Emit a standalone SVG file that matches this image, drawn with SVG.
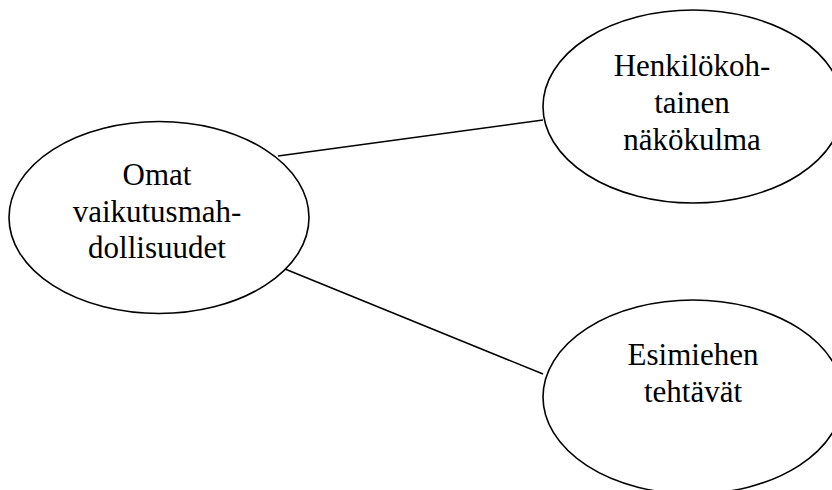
<svg xmlns="http://www.w3.org/2000/svg" width="832" height="490" viewBox="0 0 832 490">
<style>
.node{fill:#fff;stroke:#000;stroke-width:1.6}
.edge{stroke:#000;stroke-width:1.6;fill:none}
text{font-family:"Liberation Serif","Times New Roman",serif;font-size:31px;fill:#000;text-anchor:middle}
</style>
<rect width="832" height="490" fill="#fff"/>
<g id="connectors">
<line class="edge" x1="278" y1="156" x2="543" y2="120"/>
<line class="edge" x1="285" y1="269" x2="543" y2="374"/>
</g>
<g id="omat">
<ellipse class="node" cx="159" cy="217.5" rx="150" ry="96"/>
<text x="157" y="185">Omat</text>
<text x="157" y="222">vaikutusmah-</text>
<text x="157" y="258">dollisuudet</text>
</g>
<g id="henkilokohtainen">
<ellipse class="node" cx="693" cy="106.5" rx="150" ry="96.5"/>
<text x="692" y="76">Henkilökoh-</text>
<text x="692" y="113">tainen</text>
<text x="692" y="150">näkökulma</text>
</g>
<g id="esimiehen">
<ellipse class="node" cx="693" cy="397" rx="150" ry="97"/>
<text x="693" y="365">Esimiehen</text>
<text x="693" y="402">tehtävät</text>
</g>
</svg>
